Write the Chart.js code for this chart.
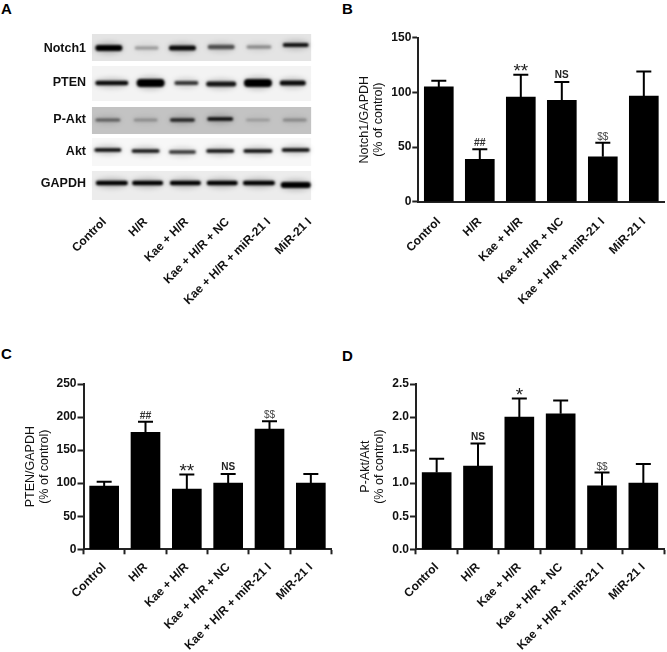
<!DOCTYPE html>
<html>
<head>
<meta charset="utf-8">
<script src="https://cdn.jsdelivr.net/npm/chart.js@4"></script>
<style>
  html, body { margin: 0; padding: 0; background: #fff; }
  #fig { position: relative; width: 667px; height: 652px; overflow: hidden; }
  canvas { position: absolute; }
  .letter { position: absolute; font: bold 15px "Liberation Sans", Arial, sans-serif; line-height: 15px; color: #000; }
</style>
</head>
<body>
<div id="fig">
  <div class="letter" style="left:1px;top:1px">A</div>
  <div class="letter" style="left:342px;top:1px">B</div>
  <div class="letter" style="left:1px;top:346px">C</div>
  <div class="letter" style="left:342px;top:348px">D</div>
  <canvas id="blot" style="left:0;top:0" width="333" height="335"></canvas>
  <canvas id="notch" style="left:335px;top:0" width="332" height="335"></canvas>
  <canvas id="pten" style="left:0;top:340px" width="333" height="312"></canvas>
  <canvas id="pakt" style="left:335px;top:340px" width="332" height="312"></canvas>
</div>
<script>
const groups = ['Control', 'H/R', 'Kae + H/R', 'Kae + H/R + NC', 'Kae + H/R + miR-21 I', 'MiR-21 I'];

// panel B
const notchValues = [105, 38.7, 95.7, 92.7, 41, 96.6];
const notchErrTop = [110.7, 48, 116, 109.5, 54, 119];
const notchMarks = ['', '##', '**', 'NS', '$$', ''];
const notchTicks = [0, 50, 100, 150];

// panel C
const ptenValues = [95.8, 177, 91, 100, 182, 100];
const ptenErrTop = [102, 193, 113, 114, 193.5, 114];
const ptenMarks = ['', '##', '**', 'NS', '$$', ''];
const ptenTicks = [0, 50, 100, 150, 200, 250];

// panel D
const paktValues = [1.16, 1.26, 2.0, 2.05, 0.96, 1.0];
const paktErrTop = [1.37, 1.6, 2.28, 2.25, 1.16, 1.29];
const paktMarks = ['', 'NS', '*', '', '$$', ''];
const paktTicks = [0, 0.5, 1, 1.5, 2, 2.5];

// panel A, blot rows
const rowLabels = ['Notch1', 'PTEN', 'P-Akt', 'Akt', 'GAPDH'];
const rowCenters = [49, 83, 120, 152, 184];
const rowTops = [34, 66, 107, 138, 171];
const rowBottoms = [61, 101, 134, 166, 200];
const rowShades = ['#e4e4e4', '#f3f3f3', '#c3c3c3', '#f7f7f7', '#ececec'];
const bandLanes = [
  [109, 147, 183, 222, 260, 297],
  [112, 151, 187, 222, 259, 294],
  [108, 146, 183, 221, 259, 296],
  [108, 146, 183, 221, 259, 297],
  [112, 148, 186, 223, 260, 297]
];
const bandLevels = [
  [48, 48, 48, 47, 47, 45],
  [83, 83, 83, 84, 83, 83],
  [120, 120, 120, 119, 120, 120],
  [150, 151, 152, 151, 151, 150],
  [183, 183, 183, 183, 183, 185]
];
const bandLengths = [
  [27, 24, 27, 27, 25, 26],
  [33, 28, 24, 30, 28, 26],
  [25, 24, 25, 26, 24, 24],
  [27, 28, 27, 28, 29, 28],
  [32, 31, 31, 31, 32, 30]
];
const bandThick = [
  [6, 3.5, 5, 4.5, 3.5, 4],
  [4.5, 8, 4, 5, 8, 5],
  [3, 3, 3.5, 3.5, 2.5, 3],
  [3.5, 3.5, 3.5, 3.5, 3.5, 3.5],
  [4.5, 4.5, 4.5, 4.5, 4.5, 6]
];
const bandDark = [
  [1, 0.28, 0.95, 0.62, 0.35, 0.9],
  [0.95, 1, 0.75, 0.9, 1, 0.95],
  [0.5, 0.25, 0.8, 0.95, 0.2, 0.28],
  [0.95, 0.9, 0.75, 0.92, 0.95, 0.95],
  [1, 1, 1, 1, 1, 1]
];

const FONT = '"Liberation Sans", Arial, sans-serif';
const INK = '#111';

const markStyles = {
  '**': { font: '19px ' + FONT, dy: 2, color: '#222' },
  '*': { font: '19px ' + FONT, dy: 2, color: '#222' },
  'NS': { font: 'bold 10px ' + FONT, dy: -3.5, color: '#222' },
  '##': { font: 'bold 10.5px ' + FONT, dy: -3, color: '#333' },
  '$$': { font: '10px ' + FONT, dy: -3, color: '#444' }
};

// error bars and significance marks above them
const errorMarks = {
  id: 'errorMarks',
  afterDatasetsDraw(chart, args, opts) {
    if (!opts.tops) return;
    const { ctx, scales: { x, y } } = chart;
    ctx.save();
    opts.tops.forEach((top, i) => {
      const px = x.getPixelForValue(i);
      const py = y.getPixelForValue(top);
      ctx.strokeStyle = '#000';
      ctx.lineWidth = 2;
      ctx.beginPath();
      ctx.moveTo(px, y.getPixelForValue(opts.values[i]));
      ctx.lineTo(px, py);
      ctx.moveTo(px - 7.5, py);
      ctx.lineTo(px + 7.5, py);
      ctx.stroke();
      const st = markStyles[opts.marks[i]];
      if (st) {
        ctx.font = st.font;
        ctx.fillStyle = st.color;
        ctx.textAlign = 'center';
        ctx.textBaseline = 'alphabetic';
        ctx.fillText(opts.marks[i], px, py + st.dy);
      }
    });
    ctx.restore();
  }
};

// western blot strips, bands placed through the lane and y scales
const blotBands = {
  id: 'blotBands',
  beforeDatasetsDraw(chart, args, opts) {
    if (!opts.show) return;
    const { ctx, scales: { lane, y } } = chart;
    ctx.save();
    rowLabels.forEach((name, r) => {
      const top = y.getPixelForValue(rowTops[r]);
      const bottom = y.getPixelForValue(rowBottoms[r]);
      ctx.filter = 'blur(0.6px)';
      ctx.fillStyle = rowShades[r];
      ctx.fillRect(lane.getPixelForValue(92), top, lane.getPixelForValue(312.5) - lane.getPixelForValue(92), bottom - top);
      bandLanes[r].forEach((cx, i) => {
        const px = lane.getPixelForValue(cx);
        const py = y.getPixelForValue(bandLevels[r][i]);
        const w = bandLengths[r][i];
        const h = bandThick[r][i];
        const d = bandDark[r][i];
        ctx.filter = 'blur(2.5px)';
        ctx.fillStyle = 'rgba(0,0,0,' + d * 0.2 + ')';
        ctx.beginPath();
        ctx.ellipse(px, py, w / 2 + 1, h / 2 + 3, 0, 0, Math.PI * 2);
        ctx.fill();
        ctx.filter = 'blur(0.9px)';
        ctx.fillStyle = 'rgba(0,0,0,' + d + ')';
        ctx.beginPath();
        ctx.roundRect(px - w / 2, py - h / 2, w, h, h / 2);
        ctx.fill();
      });
    });
    ctx.restore();
  }
};

Chart.register(errorMarks, blotBands);

function barPanel(id, values, tops, marks, ticks, cfg) {
  new Chart(document.getElementById(id), {
    type: 'bar',
    data: {
      labels: groups,
      datasets: [{ data: values, backgroundColor: '#000', barThickness: 29 }]
    },
    options: {
      responsive: false,
      animation: false,
      layout: { padding: { top: cfg.top, right: cfg.right, left: 0, bottom: 0 } },
      plugins: {
        legend: { display: false },
        tooltip: { enabled: false },
        errorMarks: { tops: tops, values: values, marks: marks }
      },
      scales: {
        x: {
          grid: { drawOnChartArea: false, drawTicks: cfg.xTicks, tickLength: 5, tickWidth: 2, tickColor: '#222' },
          border: { color: '#222', width: 2 },
          ticks: { autoSkip: false, minRotation: 45, maxRotation: 45, color: INK, padding: cfg.xPad, font: { family: FONT, size: 12, weight: 'bold' } },
          afterFit: s => { s.height = cfg.xHeight; }
        },
        y: {
          min: ticks[0],
          max: ticks[ticks.length - 1],
          afterBuildTicks: s => { s.ticks = ticks.map(v => ({ value: v })); },
          grid: { drawOnChartArea: false, tickLength: 6, tickWidth: 2, tickColor: '#222' },
          border: { color: '#222', width: 2 },
          ticks: { autoSkip: false, color: INK, padding: 1, font: { family: FONT, size: 12, weight: 'bold' }, callback: cfg.tickText },
          title: { display: true, text: cfg.title, color: '#111', padding: { top: cfg.titlePad, bottom: 0 }, font: { family: FONT, size: 12.5, lineHeight: 1.15 } },
          afterFit: s => { s.width = cfg.yWidth; }
        }
      }
    }
  });
}

barPanel('notch', notchValues, notchErrTop, notchMarks, notchTicks, {
  top: 37.7, right: 0, xHeight: 133.3, yWidth: 83.3, xTicks: false, xPad: 13,
  title: ['Notch1/GAPDH', '(% of control)'], titlePad: 22, tickText: v => v
});
barPanel('pten', ptenValues, ptenErrTop, ptenMarks, ptenTicks, {
  top: 44, right: 1.5, xHeight: 102.7, yWidth: 83.5, xTicks: true, xPad: 6,
  title: ['PTEN/GAPDH', '(% of control)'], titlePad: 23, tickText: v => v
});
barPanel('pakt', paktValues, paktErrTop, paktMarks, paktTicks, {
  top: 44, right: 3, xHeight: 102.7, yWidth: 81, xTicks: true, xPad: 6,
  title: ['P-Akt/Akt', '(% of control)'], titlePad: 23, tickText: v => v.toFixed(1)
});

// panel A
new Chart(document.getElementById('blot'), {
  type: 'bar',
  data: { labels: groups, datasets: [{ data: [] }] },
  options: {
    responsive: false,
    animation: false,
    layout: { padding: { top: 8, right: 1.3, left: 0, bottom: 0 } },
    plugins: { legend: { display: false }, tooltip: { enabled: false }, blotBands: { show: true } },
    scales: {
      x: {
        grid: { display: false, drawTicks: false },
        border: { display: false },
        ticks: { autoSkip: false, minRotation: 45, maxRotation: 45, color: INK, padding: 13, font: { family: FONT, size: 12, weight: 'bold' } },
        afterFit: s => { s.height = 133; }
      },
      lane: { type: 'linear', axis: 'x', position: 'bottom', display: false, offset: false, min: 84, max: 331.7 },
      y: {
        reverse: true,
        min: 8,
        max: 202,
        afterBuildTicks: s => { s.ticks = rowCenters.map(v => ({ value: v })); },
        grid: { display: false, drawTicks: false },
        border: { display: false },
        ticks: { color: INK, padding: -2, font: { family: FONT, size: 12.5, weight: 'bold' }, callback: (v, i) => rowLabels[i] },
        afterFit: s => { s.width = 84; },
        // row names run a little past the scale box, so no label clip here
        afterUpdate: s => { s._computeLabelArea = () => undefined; }
      }
    }
  }
});
</script>
</body>
</html>
